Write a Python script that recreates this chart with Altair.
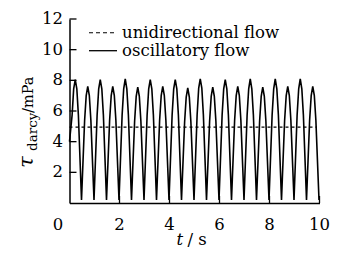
import altair as alt
import pandas as pd

# ---- data ----
time_s = [
    0.000, 0.105, 0.167, 0.230, 0.293, 0.355,
    0.480, 0.605, 0.668, 0.730, 0.793, 0.855,
    0.980, 1.105, 1.168, 1.230, 1.293, 1.355,
    1.480, 1.605, 1.668, 1.730, 1.793, 1.855,
    1.980, 2.105, 2.168, 2.230, 2.293, 2.355,
    2.480, 2.605, 2.668, 2.730, 2.793, 2.855,
    2.980, 3.105, 3.168, 3.230, 3.293, 3.355,
    3.480, 3.605, 3.668, 3.730, 3.793, 3.855,
    3.980, 4.105, 4.168, 4.230, 4.293, 4.355,
    4.480, 4.605, 4.668, 4.730, 4.793, 4.855,
    4.980, 5.105, 5.168, 5.230, 5.293, 5.355,
    5.480, 5.605, 5.668, 5.730, 5.793, 5.855,
    5.980, 6.105, 6.168, 6.230, 6.293, 6.355,
    6.480, 6.605, 6.668, 6.730, 6.793, 6.855,
    6.980, 7.105, 7.168, 7.230, 7.293, 7.355,
    7.480, 7.605, 7.668, 7.730, 7.793, 7.855,
    7.980, 8.105, 8.168, 8.230, 8.293, 8.355,
    8.480, 8.605, 8.668, 8.730, 8.793, 8.855,
    8.980, 9.105, 9.168, 9.230, 9.293, 9.355,
    9.480, 9.605, 9.668, 9.730, 9.793, 9.855,
    9.980,
]
tau_oscillatory = [
    4.0, 5.75, 7.45, 8.05, 7.45, 5.75,
    0.2, 5.40, 7.00, 7.60, 7.00, 5.40,
    0.2, 5.75, 7.45, 8.05, 7.45, 5.75,
    0.2, 5.40, 7.00, 7.60, 7.00, 5.40,
    0.2, 5.75, 7.45, 8.10, 7.45, 5.75,
    0.2, 5.35, 6.95, 7.55, 6.95, 5.35,
    0.2, 5.75, 7.45, 8.05, 7.45, 5.75,
    0.2, 5.40, 7.00, 7.60, 7.00, 5.40,
    0.2, 5.75, 7.45, 8.05, 7.45, 5.75,
    0.2, 5.30, 6.90, 7.50, 6.90, 5.30,
    0.2, 5.75, 7.50, 8.10, 7.50, 5.75,
    0.2, 5.35, 6.95, 7.55, 6.95, 5.35,
    0.2, 5.75, 7.45, 8.05, 7.45, 5.75,
    0.2, 5.40, 7.00, 7.60, 7.00, 5.40,
    0.2, 5.75, 7.45, 8.10, 7.45, 5.75,
    0.2, 5.35, 6.95, 7.55, 6.95, 5.35,
    0.2, 5.75, 7.45, 8.10, 7.45, 5.75,
    0.2, 5.40, 7.00, 7.60, 7.00, 5.40,
    0.2, 5.75, 7.45, 8.10, 7.45, 5.75,
    0.2, 5.40, 7.00, 7.60, 7.00, 5.40,
    0.2,
]
uni_time = [0.0, 9.9]
tau_unidirectional = [4.95, 4.95]
x_ticks = [2, 4, 6, 8, 10]
y_ticks = [2, 4, 6, 8, 10, 12]
legend_labels = ["unidirectional flow", "oscillatory flow"]
y_title = ["\u03c4", "darcy", "/mPa"]
x_title = ["t", "/ s"]

# ---- layout ----
W, H = 250, 184
FONT = "DejaVu Serif"
FS = 16.5

xs = alt.Scale(domain=[0, 10], nice=False, zero=False)
ys = alt.Scale(domain=[0, 12], nice=False, zero=False)

osc = pd.DataFrame({"t": time_s, "tau": tau_oscillatory})
uni = pd.DataFrame({"t": uni_time, "tau": tau_unidirectional})

axis_common = dict(ticks=False, grid=False, title=None, labels=False,
                   domainColor="black", domainWidth=1.5)

osc_line = alt.Chart(osc).mark_line(color="black", strokeWidth=1.6).encode(
    x=alt.X("t:Q", scale=xs, axis=alt.Axis(values=x_ticks, **axis_common)),
    y=alt.Y("tau:Q", scale=ys, axis=alt.Axis(values=y_ticks, **axis_common)),
)

uni_line = alt.Chart(uni).mark_line(color="black", strokeWidth=1.1, strokeDash=[3, 3]).encode(
    x=alt.X("t:Q", scale=xs), y=alt.Y("tau:Q", scale=ys))

xt = pd.DataFrame({"t": x_ticks})
yt = pd.DataFrame({"tau": y_ticks})
x_tick_rules = alt.Chart(xt).mark_rule(color="black", strokeWidth=1.3).encode(
    x=alt.X("t:Q", scale=xs), y=alt.value(H), y2=alt.value(H - 7))
y_tick_rules = alt.Chart(yt).mark_rule(color="black", strokeWidth=1.3).encode(
    y=alt.Y("tau:Q", scale=ys), x=alt.value(0), x2=alt.value(7))

# tick labels
x_labels = alt.Chart(xt).mark_text(fontSize=FS, baseline="alphabetic", align="center").encode(
    x=alt.X("t:Q", scale=xs), y=alt.value(H + 27), text=alt.Text("t:Q"))
zero_label = alt.Chart(pd.DataFrame({"t": [0]})).mark_text(
    fontSize=FS, baseline="alphabetic", align="center", dx=-11.5
).encode(x=alt.X("t:Q", scale=xs), y=alt.value(H + 27), text=alt.Text("t:Q"))
y_labels = alt.Chart(yt).mark_text(fontSize=FS, baseline="middle", align="right").encode(
    y=alt.Y("tau:Q", scale=ys), x=alt.value(-6.5), text=alt.Text("tau:Q"))

# legend
leg = pd.DataFrame({"label": legend_labels})
leg_dot = alt.Chart(leg.iloc[[0]]).mark_rule(color="black", strokeWidth=1.1, strokeDash=[4, 3]).encode(
    x=alt.value(19.5), x2=alt.value(47.5), y=alt.value(13.7))
leg_solid = alt.Chart(leg.iloc[[1]]).mark_rule(color="black", strokeWidth=1.3).encode(
    x=alt.value(19.5), x2=alt.value(47.5), y=alt.value(31.7))
leg_t1 = alt.Chart(leg.iloc[[0]]).mark_text(
    fontSize=FS, align="left", baseline="alphabetic"
).encode(x=alt.value(52.5), y=alt.value(19), text="label:N")
leg_t2 = alt.Chart(leg.iloc[[1]]).mark_text(
    fontSize=FS, align="left", baseline="alphabetic"
).encode(x=alt.value(52.5), y=alt.value(37), text="label:N")

# axis titles
yt_df = pd.DataFrame({"s": y_title})
tau_txt = alt.Chart(yt_df.iloc[[0]]).mark_text(
    fontSize=21, fontStyle="italic", angle=270, align="left", baseline="alphabetic"
).encode(x=alt.value(-36.5), y=alt.value(149), text="s:N")
sub_txt = alt.Chart(yt_df.iloc[[1]]).mark_text(
    fontSize=13.5, angle=270, align="left", baseline="alphabetic"
).encode(x=alt.value(-32.5), y=alt.value(132), text="s:N")
unit_txt = alt.Chart(yt_df.iloc[[2]]).mark_text(
    fontSize=14.5, angle=270, align="left", baseline="alphabetic"
).encode(x=alt.value(-36.5), y=alt.value(94), text="s:N")

xt_df = pd.DataFrame({"s": x_title})
t_txt = alt.Chart(xt_df.iloc[[0]]).mark_text(
    fontSize=FS, fontStyle="italic", align="left", baseline="alphabetic"
).encode(x=alt.value(107), y=alt.value(226), text="s:N")
s_txt = alt.Chart(xt_df.iloc[[1]]).mark_text(
    fontSize=FS, align="left", baseline="alphabetic"
).encode(x=alt.value(118), y=alt.value(226), text="s:N")

chart = alt.layer(
    osc_line, uni_line, x_tick_rules, y_tick_rules, x_labels, zero_label, y_labels,
    leg_dot, leg_solid, leg_t1, leg_t2, tau_txt, sub_txt, unit_txt, t_txt, s_txt,
).properties(
    width=W, height=H,
    padding={"left": 61.5, "top": 11, "right": 10, "bottom": 47},
    autosize=alt.AutoSizeParams(type="none"),
    background="white",
).configure_view(stroke=None).configure_text(font=FONT, color="black")

chart.save("out.html", embed_options={"renderer": "svg", "actions": False})
